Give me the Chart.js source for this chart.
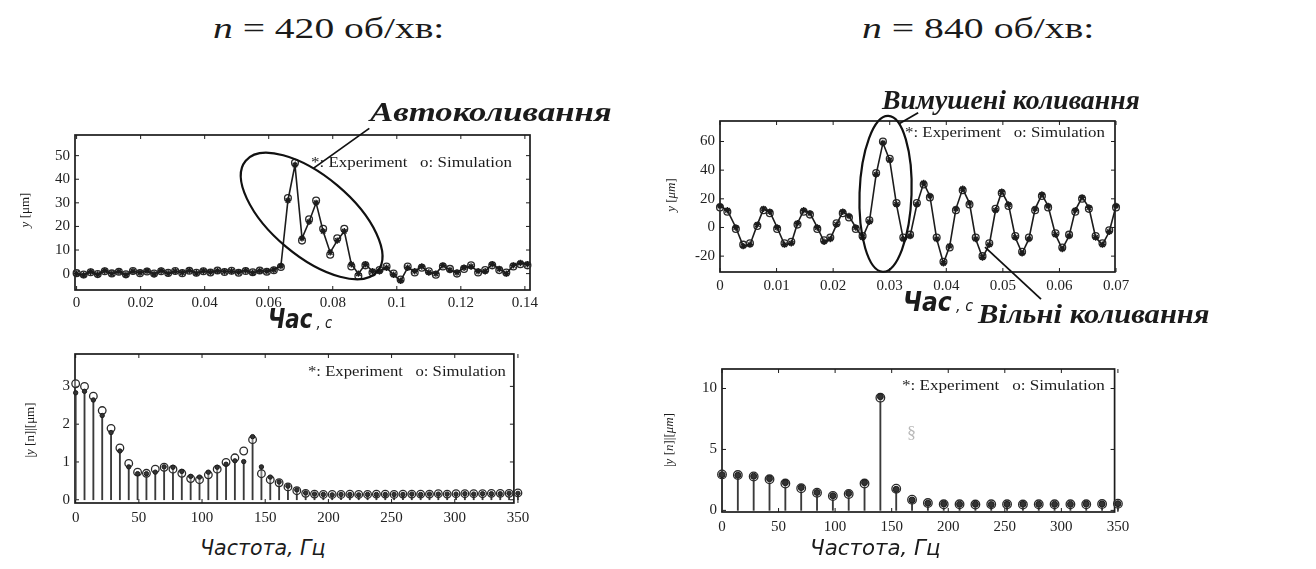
<!DOCTYPE html>
<html>
<head>
<meta charset="utf-8">
<title>n = 420 / 840 об/хв</title>
<script src="https://cdn.jsdelivr.net/npm/chart.js@4.4.1/dist/chart.umd.min.js"></script>
<style>
  html, body { margin: 0; padding: 0; background: #fff; }
  body { width: 1316px; height: 569px; position: relative; overflow: hidden; color: #1b1b1b; }
  canvas { position: absolute; }
  .txt { position: absolute; white-space: nowrap; line-height: 1; transform-origin: left center; }
  .ttl { font-family: "Liberation Serif", serif; font-size: 30px; }
  .note { font-family: "Liberation Serif", serif; font-size: 27px; font-weight: bold; font-style: italic; }
  .leg { font-family: "Liberation Serif", serif; font-size: 15px; }
  .xt { font-family: "Liberation Sans Narrow", "DejaVu Sans Condensed", "DejaVu Sans", sans-serif; font-style: italic; font-size: 21px; }
  .chas b { font-size: 26px; }
  .chas span { font-size: 16px; }
  .yl { position: absolute; white-space: nowrap; line-height: 1; font-family: "Liberation Serif", serif; font-size: 13px; transform: translate(-50%, -50%) rotate(-90deg); }
  .faint { font-family: "Liberation Serif", serif; font-size: 16px; color: #b8b8b8; }
</style>
</head>
<body>

<canvas id="c420t"></canvas>
<canvas id="c840t"></canvas>
<canvas id="c420f"></canvas>
<canvas id="c840f"></canvas>

<!-- titles -->
<div class="txt ttl" data-l="213" data-y="28" data-w="232"><i>n</i> = 420 об/хв:</div>
<div class="txt ttl" data-l="862" data-y="28" data-w="233"><i>n</i> = 840 об/хв:</div>

<!-- callouts -->
<div class="txt note" data-l="370" data-y="112" data-w="242">Автоколивання</div>
<div class="txt note" data-l="882" data-y="100" data-w="258">Вимушені коливання</div>
<div class="txt note" data-l="978" data-y="314" data-w="232">Вільні коливання</div>

<!-- legends inside plots -->
<div class="txt leg" data-l="311" data-y="162" data-w="201">*: Experiment &nbsp; o: Simulation</div>
<div class="txt leg" data-l="905" data-y="132" data-w="200">*: Experiment &nbsp; o: Simulation</div>
<div class="txt leg" data-l="308" data-y="371" data-w="198">*: Experiment &nbsp; o: Simulation</div>
<div class="txt leg" data-l="902" data-y="385" data-w="203">*: Experiment &nbsp; o: Simulation</div>

<!-- axis titles -->
<div class="txt xt chas" data-l="268" data-y="319" data-w="64"><b>Час</b><span> , с</span></div>
<div class="txt xt chas" data-l="903" data-y="302" data-w="70"><b>Час</b><span> , с</span></div>
<div class="txt xt" data-l="200" data-y="548" data-w="125">Частота, Гц</div>
<div class="txt xt" data-l="810" data-y="548" data-w="130">Частота, Гц</div>

<div class="yl" data-x="24" data-y="210"><i>y</i> [μm]</div>
<div class="yl" data-x="670" data-y="195"><i>y</i> [<i>μm</i>]</div>
<div class="yl" data-x="29" data-y="430">|<i>y</i> [n]|[μm]</div>
<div class="yl" data-x="668" data-y="440">|<i>y</i> [<i>n</i>]|[<i>μm</i>]</div>

<div class="txt faint" data-l="907" data-y="433" data-w="9">§</div>

<script>
// ---------- n = 420 об/хв, time response (s / um)
var t420 = [0, 0.0022, 0.0044, 0.0066, 0.0088, 0.011, 0.0132, 0.0154, 0.0176, 0.0198,
            0.022, 0.0242, 0.0264, 0.0286, 0.0308, 0.033, 0.0352, 0.0374, 0.0396, 0.0418,
            0.044, 0.0462, 0.0484, 0.0506, 0.0528, 0.055, 0.0572, 0.0594, 0.0616, 0.0638,
            0.066, 0.0682, 0.0704, 0.0726, 0.0748, 0.077, 0.0792, 0.0814, 0.0836, 0.0858,
            0.088, 0.0902, 0.0924, 0.0946, 0.0968, 0.099, 0.1012, 0.1034, 0.1056, 0.1078,
            0.11, 0.1122, 0.1144, 0.1166, 0.1188, 0.121, 0.1232, 0.1254, 0.1276, 0.1298,
            0.132, 0.1342, 0.1364, 0.1386, 0.1408];
var y420Exp = [0.0, -0.6, 0.8, -0.4, 1.2, 0.0, 0.9, -0.5, 1.0, 0.4,
               1.1, -0.2, 1.2, 0.1, 1.0, 0.4, 1.3, 0.2, 1.1, 0.6,
               1.2, 0.9, 1.0, 0.6, 1.3, 0.4, 1.2, 1.0, 1.6, 3.2,
               31, 46, 15, 22, 30, 18, 9, 14, 18, 4,
               0, 4, 1, 1, 2.5, -0.5, -3, 2.5, 1, 3,
               0.5, 0, 3.5, 1.5, 0.5, 2.5, 3, 1, 1, 4,
               2, 0, 3.5, 4.5, 4];
var y420Sim = [0.2, -0.4, 0.6, -0.2, 1.0, 0.1, 0.8, -0.3, 1.1, 0.2,
               0.9, 0.0, 1.0, 0.3, 1.1, 0.2, 1.2, 0.4, 1.0, 0.5,
               1.3, 0.7, 1.2, 0.4, 1.1, 0.6, 1.3, 0.8, 1.4, 2.8,
               32, 47, 14, 23, 31, 19, 8, 15, 19, 3,
               -1, 3.5, 0.5, 1.5, 3, 0, -2.5, 3, 0.5, 2.5,
               1, -0.5, 3, 2, 0, 2, 3.5, 0.5, 1.5, 3.5,
               1.5, 0.5, 3, 4, 3.5];

// ---------- n = 840 об/хв, time response
var t840 = [0, 0.0013, 0.0028, 0.0041, 0.0053, 0.0066, 0.0077, 0.0088, 0.0101, 0.0114,
            0.0126, 0.0137, 0.0148, 0.0159, 0.0172, 0.0184, 0.0195, 0.0206, 0.0217, 0.0228,
            0.024, 0.0252, 0.0264, 0.0276, 0.0288, 0.03, 0.0312, 0.0324, 0.0336, 0.0348,
            0.036, 0.0371, 0.0383, 0.0395, 0.0406, 0.0417, 0.0429, 0.0441, 0.0452, 0.0464,
            0.0476, 0.0487, 0.0498, 0.051, 0.0522, 0.0534, 0.0546, 0.0557, 0.0569, 0.058,
            0.0593, 0.0605, 0.0617, 0.0628, 0.064, 0.0652, 0.0664, 0.0676, 0.0688, 0.07];
var y840Exp = [15, 12, 0, -13, -12, 2, 13, 11, 0, -12,
               -11, 3, 12, 10, 0, -10, -8, 2, 11, 8,
               0, -7, 4, 37, 59, 47, 16, -8, -6, 16,
               31, 22, -8, -25, -13, 13, 27, 17, -8, -21,
               -12, 12, 25, 16, -7, -18, -8, 13, 23, 15,
               -5, -15, -6, 12, 21, 14, -7, -12, -3, 15];
var y840Sim = [14, 11, -1, -12, -11, 1, 12, 10, -1, -11,
               -10, 2, 11, 9, -1, -9, -7, 3, 10, 7,
               -1, -6, 5, 38, 60, 48, 17, -7, -5, 17,
               30, 21, -7, -24, -14, 12, 26, 16, -7, -20,
               -11, 13, 24, 15, -6, -17, -7, 12, 22, 14,
               -4, -14, -5, 11, 20, 13, -6, -11, -2, 14];

// ---------- spectra |y[n]| (um)
var f420 = [0, 7, 14, 21, 28, 35, 42, 49, 56, 63, 70, 77, 84, 91, 98, 105, 112, 119, 126, 133,
            140, 147, 154, 161, 168, 175, 182, 189, 196, 203, 210, 217, 224, 231, 238, 245,
            252, 259, 266, 273, 280, 287, 294, 301, 308, 315, 322, 329, 336, 343, 350];
var a420Exp = [2.83, 2.87, 2.64, 2.23, 1.78, 1.29, 0.87, 0.69, 0.69, 0.73, 0.87, 0.86, 0.75, 0.62, 0.60,
               0.73, 0.86, 0.94, 1.03, 1.01, 1.67, 0.87, 0.60, 0.47, 0.36, 0.26,
               0.18, 0.15, 0.14, 0.13, 0.14, 0.14, 0.13, 0.14, 0.14, 0.14, 0.14, 0.14, 0.15,
               0.14, 0.15, 0.15, 0.15, 0.15, 0.16, 0.15, 0.16, 0.16, 0.16, 0.17, 0.17];
var a420Sim = [3.07, 3.00, 2.74, 2.36, 1.89, 1.37, 0.96, 0.73, 0.70, 0.81, 0.86, 0.81, 0.70, 0.56, 0.53,
               0.66, 0.81, 0.99, 1.11, 1.29, 1.59, 0.69, 0.53, 0.45, 0.34, 0.24,
               0.17, 0.15, 0.14, 0.14, 0.14, 0.15, 0.14, 0.14, 0.15, 0.15, 0.14, 0.15, 0.15,
               0.15, 0.15, 0.16, 0.15, 0.16, 0.16, 0.16, 0.16, 0.17, 0.17, 0.17, 0.18];
var f840 = [0, 14, 28, 42, 56, 70, 84, 98, 112, 126, 140, 154, 168, 182, 196, 210, 224,
            238, 252, 266, 280, 294, 308, 322, 336, 350];
var a840Exp = [2.93, 2.88, 2.8, 2.6, 2.27, 1.87, 1.47, 1.2, 1.39, 2.27, 9.33, 1.73, 0.85,
               0.59, 0.53, 0.5, 0.5, 0.48, 0.5, 0.5, 0.5, 0.5, 0.5, 0.52, 0.52, 0.55];
var a840Sim = [2.95, 2.9, 2.78, 2.55, 2.2, 1.82, 1.45, 1.18, 1.35, 2.2, 9.25, 1.78, 0.88,
               0.6, 0.5, 0.5, 0.48, 0.5, 0.5, 0.48, 0.5, 0.5, 0.5, 0.5, 0.52, 0.55];

// ---------- tick labels
var tickT420 = [0, 0.02, 0.04, 0.06, 0.08, 0.1, 0.12, 0.14];
var tickY420 = [0, 10, 20, 30, 40, 50];
var tickT840 = [0, 0.01, 0.02, 0.03, 0.04, 0.05, 0.06, 0.07];
var tickY840 = [-20, 0, 20, 40, 60];
var tickF = [0, 50, 100, 150, 200, 250, 300, 350];
var tickA420 = [0, 1, 2, 3];
var tickA840 = [0, 5, 10];

var INK = '#1c1c1c';
var AXW = 40, AXH = 28;   // fixed room for tick labels

Chart.defaults.font.family = '"Liberation Serif", "Times New Roman", serif';
Chart.defaults.color = '#222';

function pts(xs, ys) {
    return xs.map(function (x, i) { return { x: x, y: ys[i] }; });
}

// point on a rotated ellipse, seen from its centre in screen direction phi
function rim(cx, cy, e, phi) {
    var r = e.rot * Math.PI / 180, p = phi * Math.PI / 180;
    var dx = Math.cos(p), dy = Math.sin(p);
    var u = dx * Math.cos(r) + dy * Math.sin(r);
    var v = -dx * Math.sin(r) + dy * Math.cos(r);
    var k = 1 / Math.sqrt(u * u / (e.a * e.a) + v * v / (e.b * e.b));
    return [cx + k * dx, cy + k * dy];
}

// box with inner ticks on all four sides
var framePlugin = {
    id: 'frame',
    beforeDatasetsDraw: function (chart) {
        var a = chart.chartArea, ctx = chart.ctx, sx = chart.scales.x, sy = chart.scales.y;
        ctx.save();
        ctx.strokeStyle = INK;
        ctx.lineWidth = 1.7;
        ctx.strokeRect(a.left, a.top, a.right - a.left, a.bottom - a.top);
        ctx.lineWidth = 1;
        ctx.beginPath();
        sx.ticks.forEach(function (t) {
            var p = sx.getPixelForValue(t.value);
            ctx.moveTo(p, a.bottom); ctx.lineTo(p, a.bottom - 4);
            ctx.moveTo(p, a.top); ctx.lineTo(p, a.top + 4);
        });
        sy.ticks.forEach(function (t) {
            var p = sy.getPixelForValue(t.value);
            ctx.moveTo(a.left, p); ctx.lineTo(a.left + 4, p);
            ctx.moveTo(a.right, p); ctx.lineTo(a.right - 4, p);
        });
        ctx.stroke();
        ctx.restore();
    }
};

// hand-drawn callouts: ellipses and pointer lines
var notesPlugin = {
    id: 'notes',
    afterDatasetsDraw: function (chart, args, opts) {
        var ctx = chart.ctx, sx = chart.scales.x, sy = chart.scales.y;
        ctx.save();
        ctx.strokeStyle = '#111';
        (opts.ellipses || []).forEach(function (e) {
            var cx = sx.getPixelForValue(e.x), cy = sy.getPixelForValue(e.y);
            ctx.lineWidth = 2.2;
            ctx.beginPath();
            ctx.ellipse(cx, cy, e.a, e.b, e.rot * Math.PI / 180, 0, 2 * Math.PI);
            ctx.stroke();
            if (e.lead) {
                var s = rim(cx, cy, e, e.lead.phi);
                ctx.lineWidth = 1.8;
                ctx.beginPath();
                ctx.moveTo(s[0], s[1]);
                ctx.lineTo(s[0] + e.lead.dx, s[1] + e.lead.dy);
                ctx.stroke();
            }
        });
        (opts.pointers || []).forEach(function (p) {
            var px = sx.getPixelForValue(p.x), py = sy.getPixelForValue(p.y);
            ctx.lineWidth = 1.8;
            ctx.beginPath();
            ctx.moveTo(px, py);
            ctx.lineTo(px + p.dx, py + p.dy);
            ctx.stroke();
        });
        ctx.restore();
    }
};

function build(id, area, pad, xr, yr, xTicks, yTicks, datasets, notes, xPad) {
    var cv = document.getElementById(id);
    var left = area.l - AXW - pad.l, top = area.t - pad.t;
    cv.width = area.r + pad.r - left;
    cv.height = area.b + AXH + pad.b - top;
    cv.style.left = left + 'px';
    cv.style.top = top + 'px';
    return new Chart(cv, {
        type: 'bar',
        data: { datasets: datasets },
        options: {
            responsive: false,
            animation: false,
            events: [],
            layout: { padding: { left: pad.l, top: pad.t, right: pad.r, bottom: pad.b } },
            plugins: { legend: { display: false }, tooltip: { enabled: false }, notes: notes || {} },
            scales: {
                x: {
                    type: 'linear', min: xr[0], max: xr[1], offset: false,
                    grid: { display: false, drawTicks: false }, border: { display: false },
                    ticks: { padding: xPad || 6, font: { size: 15 }, maxRotation: 0, autoSkip: false,
                             callback: function (v) { return String(v); } },
                    afterBuildTicks: function (s) { s.ticks = xTicks.map(function (v) { return { value: v }; }); },
                    afterFit: function (s) { s.height = AXH; }
                },
                y: {
                    type: 'linear', min: yr[0], max: yr[1],
                    grid: { display: false, drawTicks: false }, border: { display: false },
                    ticks: { padding: 5, font: { size: 15 }, autoSkip: false,
                             callback: function (v) { return String(v); } },
                    afterBuildTicks: function (s) { s.ticks = yTicks.map(function (v) { return { value: v }; }); },
                    afterFit: function (s) { s.width = AXW; }
                }
            }
        },
        plugins: [framePlugin, notesPlugin]
    });
}

function expLine(xs, ys) {
    return { type: 'line', data: pts(xs, ys), borderColor: INK, borderWidth: 1.6, tension: 0,
             pointStyle: 'star', pointRadius: 3.2, pointBorderWidth: 1.4, pointBorderColor: INK,
             pointBackgroundColor: INK, clip: false };
}
function simDots(xs, ys, r) {
    return { type: 'line', data: pts(xs, ys), showLine: false, pointStyle: 'circle',
             pointRadius: r, pointBorderWidth: 1.3, pointBorderColor: '#2a2a2a',
             pointBackgroundColor: 'rgba(255,255,255,0.35)', clip: false };
}
function expDots(xs, ys, r) {
    return { type: 'line', data: pts(xs, ys), showLine: false, pointStyle: 'circle',
             pointRadius: r, pointBorderWidth: 1, pointBorderColor: INK,
             pointBackgroundColor: '#333', clip: false };
}
function stems(xs, ys) {
    return { type: 'bar', data: pts(xs, ys), backgroundColor: '#3a3a3a', barThickness: 1.2,
             grouped: false, clip: false };
}

// time response, 420 rpm
build('c420t', { l: 75, r: 530, t: 133, b: 290 }, { l: 4, t: 12, r: 20, b: 4 },
      [-0.0005, 0.1416], [-6.94, 58.75], tickT420, tickY420,
      [expLine(t420, y420Exp), simDots(t420, y420Sim, 3.4)],
      { ellipses: [{ x: 0.0734, y: 24.4, a: 86, b: 40, rot: 40, lead: { phi: -88, dx: 56, dy: -40 } }] }, 4);

// time response, 840 rpm
build('c840t', { l: 720, r: 1115, t: 119, b: 272 }, { l: 4, t: 12, r: 20, b: 20 },
      [0, 0.06982], [-31.07, 74.3], tickT840, tickY840,
      [expLine(t840, y840Exp), simDots(t840, y840Sim, 3.4)],
      { ellipses: [{ x: 0.02926, y: 23.5, a: 26, b: 78, rot: 2, lead: { phi: -79, dx: 19, dy: -11 } }],
        pointers: [{ x: 0.04684, y: -13.65, dx: 56, dy: 52 }] }, 5);

// spectrum, 420 rpm
build('c420f', { l: 75, r: 515, t: 350, b: 503 }, { l: 4, t: 10, r: 20, b: 4 },
      [-0.53, 346.8], [-0.086, 3.857], tickF, tickA420,
      [expDots(f420, a420Exp, 2.2), simDots(f420, a420Sim, 3.8), stems(f420, a420Exp)]);

// spectrum, 840 rpm
build('c840f', { l: 722, r: 1115, t: 365, b: 512 }, { l: 4, t: 10, r: 20, b: 4 },
      [0, 347.06], [-0.133, 11.6], tickF, tickA840,
      [expDots(f840, a840Exp, 3), simDots(f840, a840Sim, 4.3), stems(f840, a840Exp)]);

// free text: left edge, vertical centre, stretched to the measured width
document.querySelectorAll('.txt').forEach(function (el) {
    var w0 = el.offsetWidth;
    var k = parseFloat(el.dataset.w) / w0;
    el.style.left = el.dataset.l + 'px';
    el.style.top = el.dataset.y + 'px';
    el.style.transform = 'translateY(-50%) scaleX(' + k.toFixed(3) + ')';
});
document.querySelectorAll('.yl').forEach(function (el) {
    el.style.left = el.dataset.x + 'px';
    el.style.top = el.dataset.y + 'px';
});
</script>
</body>
</html>
